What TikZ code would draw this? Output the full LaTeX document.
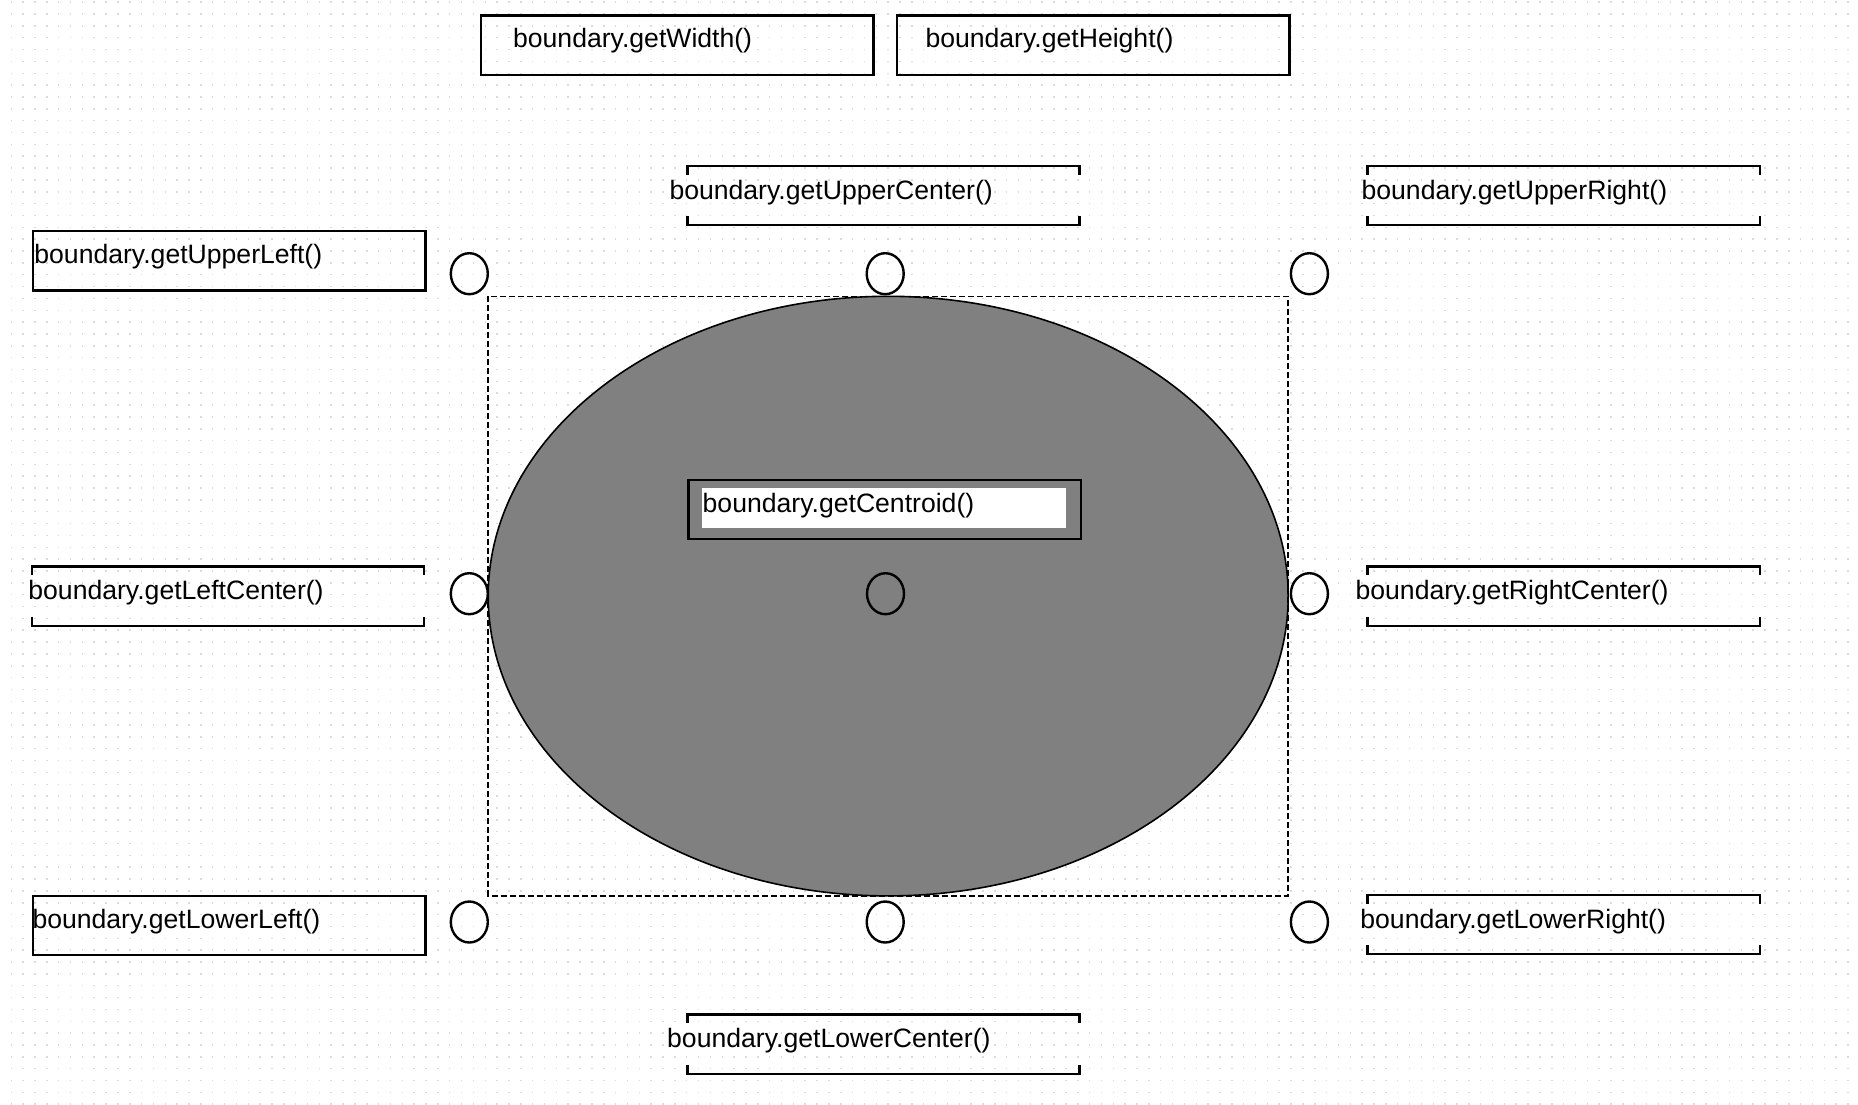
\documentclass[tikz,border=0pt]{standalone}
\usepackage{fontspec}
\setmainfont{Liberation Sans}
\usetikzlibrary{shapes.geometric}
\begin{document}
\begin{tikzpicture}[x=1pt,y=-1pt,
  lbl/.style={anchor=base west, inner sep=0pt, outer sep=0pt, font=\fontsize{26.6}{30}\selectfont},
  framebox/.style={draw=black, line width=2.4pt, anchor=north west, inner sep=0pt, minimum width=392.2pt, minimum height=59.3pt},
  brk/.style={draw=black, line width=2.4pt},
  handle/.style={draw=black, line width=2.4pt, ellipse, inner sep=0pt, minimum width=37pt, minimum height=41pt},
  dotline/.style={draw=gray!28, line width=1.5pt, dash pattern=on 1.5pt off 10.35pt},
  bracketpic/.pic={
    \draw[brk] (0,9) -- (0,0) -- (392.2,0) -- (392.2,9);
    \draw[brk] (0,50.3) -- (0,59.3) -- (392.2,59.3) -- (392.2,50.3);
  }]
\useasboundingbox (0,0) rectangle (1858,1104);
\fill[white] (0,0) rectangle (1858,1104);
% dotted grid
\foreach \r in {0,...,93} {
  \draw[dotline] (10.5,2.15+\r*11.85) -- (1858,2.15+\r*11.85);
}
% shape and bounds
\node[ellipse, draw=black, line width=1.6pt, fill=gray, inner sep=0pt, minimum width=800pt, minimum height=599.6pt] (shape) at (888.2,596.1) {};
\draw[black, line width=1.6pt, dash pattern=on 6pt off 3pt] (488.2,296.3) rectangle (1288.1,895.9);
% top boxes
\node[framebox] (wbox) at (480,14.2) {};
\node[lbl] (wtxt) at (513.1,47.7) {boundary.getWidth()};
\node[framebox] (hbox) at (895.9,14.2) {};
\node[lbl] (htxt) at (925.5,47.7) {boundary.getHeight()};
% brackets
\pic (ucbr) at (687.3,165.9) {bracketpic};
\node[lbl] (uctxt) at (669.5,199.4) {boundary.getUpperCenter()};
\pic (urbr) at (1367.5,165.9) {bracketpic};
\node[lbl] (urtxt) at (1361.6,199.4) {boundary.getUpperRight()};
\node[framebox] (ulbox) at (32,229.9) {};
\node[lbl] (ultxt) at (34.4,263.4) {boundary.getUpperLeft()};
\pic (lcbr) at (32,566.4) {bracketpic};
\node[lbl] (lctxt) at (28.4,599.9) {boundary.getLeftCenter()};
\pic (rcbr) at (1367.5,566.4) {bracketpic};
\node[lbl] (rctxt) at (1355.6,599.9) {boundary.getRightCenter()};
\node[framebox] (llbox) at (32,894.7) {};
\node[lbl] (lltxt) at (32.5,928.2) {boundary.getLowerLeft()};
\pic (lrbr) at (1367.5,894.7) {bracketpic};
\node[lbl] (lrtxt) at (1360.4,928.2) {boundary.getLowerRight()};
\pic (lwcbr) at (687.3,1014.4) {bracketpic};
\node[lbl] (lwctxt) at (667.2,1047.9) {boundary.getLowerCenter()};
% centroid label
\node[framebox] (cbox) at (687.3,478.7) {};
\fill[white] (701.7,488.3) rectangle (1066,527.7);
\node[lbl] (ctxt) at (702.7,512.2) {boundary.getCentroid()};
% handles
\node[handle] (hul) at (469.3,273.7) {};
\node[handle] (huc) at (885.2,273.7) {};
\node[handle] (hur) at (1309.4,273.7) {};
\node[handle] (hlc) at (469.3,593.7) {};
\node[handle] (hcc) at (885.5,593.7) {};
\node[handle] (hrc) at (1309.4,593.7) {};
\node[handle] (hll) at (469.3,922) {};
\node[handle] (hlw) at (885.2,922) {};
\node[handle] (hlr) at (1309.4,922) {};
\end{tikzpicture}
\end{document}
